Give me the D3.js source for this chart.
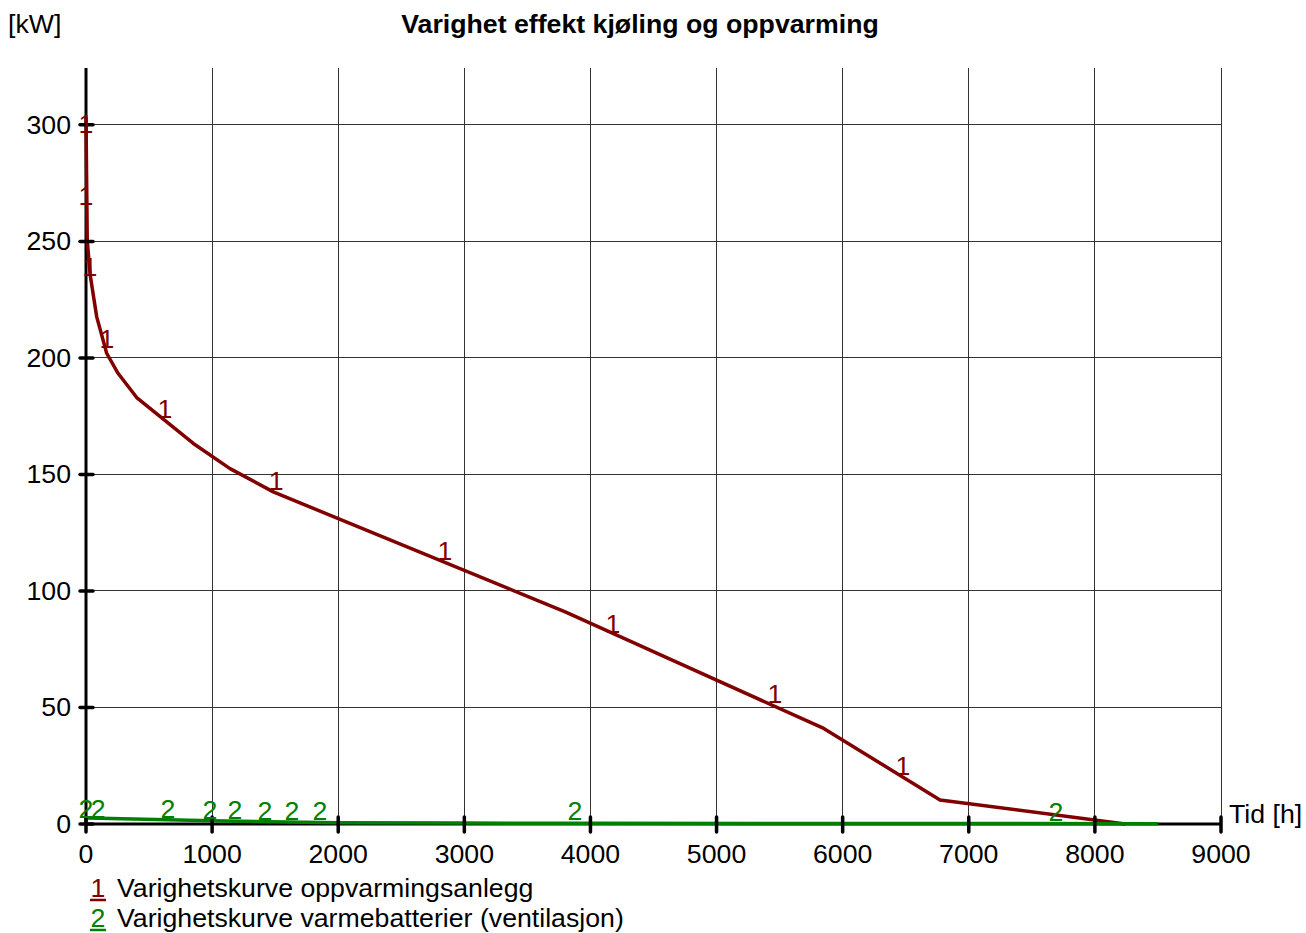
<!DOCTYPE html>
<html>
<head>
<meta charset="utf-8">
<script src="https://cdn.jsdelivr.net/npm/d3@7"></script>
<style>
  body { margin: 0; background: #fff; }
  svg { display: block; font-family: "Liberation Sans", Arial, sans-serif; }
</style>
</head>
<body>
<div id="chart"></div>
<script>
// duration curve, heating plant (h, kW)
const heatingHours = [0, 10, 32, 85, 164, 254, 402, 851, 1142, 1485, 3800, 4600, 5850, 6772, 8240];
const heatingKw = [303, 250.5, 236, 217.6, 202, 193.4, 183, 163.3, 152.5, 142.5, 91, 71.5, 41, 10.3, 0];

// duration curve, ventilation heating coils (h, kW)
const ventHours = [0, 110, 1000, 2000, 3000, 4000, 6000, 8500];
const ventKw = [2.6, 2.5, 1.4, 0.55, 0.4, 0.3, 0.2, 0.15];

// label positions along each curve
const heatingMarkHours = [0, 0, 32, 166, 626, 1507, 2847, 4179, 5463, 6478];
const heatingMarkKw = [300, 269, 238.5, 207.6, 177.5, 146.7, 116.7, 85.3, 55.3, 24.4];
const ventMarkHours = [0, 97, 650, 983, 1181, 1419, 1633, 1855, 3877, 7692];
const ventMarkKw = [6, 6, 6, 5.6, 5.6, 5.3, 5.3, 5, 5, 4.8];

const xTicks = [0, 1000, 2000, 3000, 4000, 5000, 6000, 7000, 8000, 9000];
const yTicks = [0, 50, 100, 150, 200, 250, 300];

const legendLabels = ['Varighetskurve oppvarmingsanlegg', 'Varighetskurve varmebatterier (ventilasjon)'];
const seriesColors = ['#800000', '#008000'];
const seriesMarks = ['1', '2'];

const width = 1306, height = 933;
const fontSize = 26.7;

const svg = d3.select('#chart').append('svg')
  .attr('width', width)
  .attr('height', height);

const x = d3.scaleLinear().domain([0, 9000]).range([86, 1221]);
const y = d3.scaleLinear().domain([0, 324.4]).range([824, 68]);

// title and unit
svg.append('text')
  .attr('x', 640).attr('y', 33)
  .attr('text-anchor', 'middle')
  .attr('font-weight', 'bold')
  .attr('font-size', 26.7)
  .text('Varighet effekt kjøling og oppvarming');

svg.append('text')
  .attr('x', 8).attr('y', 33)
  .attr('font-size', fontSize)
  .text('[kW]');

// grid
const grid = svg.append('g').attr('stroke', '#333').attr('stroke-width', 1).attr('shape-rendering', 'crispEdges');
grid.selectAll('line.v')
  .data(xTicks.slice(1))
  .enter().append('line')
  .attr('x1', d => x(d)).attr('x2', d => x(d))
  .attr('y1', y(0)).attr('y2', y.range()[1]);
grid.selectAll('line.h')
  .data(yTicks.slice(1))
  .enter().append('line')
  .attr('x1', x(0)).attr('x2', x.range()[1])
  .attr('y1', d => y(d)).attr('y2', d => y(d));

// axis lines
svg.append('line')
  .attr('x1', x(0)).attr('x2', x(0))
  .attr('y1', y(0)).attr('y2', y.range()[1])
  .attr('stroke', '#000').attr('stroke-width', 3);
svg.append('line')
  .attr('x1', x(0)).attr('x2', x.range()[1])
  .attr('y1', y(0)).attr('y2', y(0))
  .attr('stroke', '#000').attr('stroke-width', 3);

// curves
const line = d3.line().x(d => x(d[0])).y(d => y(d[1]));
const heating = d3.zip(heatingHours, heatingKw);
const vent = d3.zip(ventHours, ventKw);

svg.append('path')
  .datum(heating)
  .attr('d', line)
  .attr('fill', 'none')
  .attr('stroke', seriesColors[0])
  .attr('stroke-width', 3.5)
  .attr('stroke-linejoin', 'round');

svg.append('path')
  .datum(vent)
  .attr('d', line)
  .attr('fill', 'none')
  .attr('stroke', seriesColors[1])
  .attr('stroke-width', 3.5);

// ticks
svg.append('g').selectAll('line')
  .data(xTicks)
  .enter().append('line')
  .attr('x1', d => x(d)).attr('x2', d => x(d))
  .attr('y1', y(0) - 7).attr('y2', y(0) + 8)
  .attr('stroke', '#000').attr('stroke-width', 3.5).attr('stroke-linecap', 'round');
svg.append('g').selectAll('line')
  .data(yTicks)
  .enter().append('line')
  .attr('x1', x(0) - 6).attr('x2', x(0) + 7)
  .attr('y1', d => y(d)).attr('y2', d => y(d))
  .attr('stroke', '#000').attr('stroke-width', 3.5).attr('stroke-linecap', 'round');

// tick labels
svg.append('g').selectAll('text')
  .data(xTicks)
  .enter().append('text')
  .attr('x', d => x(d)).attr('y', y(0) + 39)
  .attr('text-anchor', 'middle')
  .attr('font-size', fontSize)
  .text(d => d);
svg.append('g').selectAll('text')
  .data(yTicks)
  .enter().append('text')
  .attr('x', x(0) - 15).attr('y', d => y(d) + 9)
  .attr('text-anchor', 'end')
  .attr('font-size', fontSize)
  .text(d => d);

svg.append('text')
  .attr('x', 1229).attr('y', y(0) - 1)
  .attr('font-size', fontSize)
  .text('Tid [h]');

// curve markers
const markSets = [
  d3.zip(heatingMarkHours, heatingMarkKw),
  d3.zip(ventMarkHours, ventMarkKw)
];
markSets.forEach((marks, i) => {
  svg.append('g').selectAll('text')
    .data(marks)
    .enter().append('text')
    .attr('x', d => x(d[0])).attr('y', d => y(d[1]) + 8)
    .attr('text-anchor', 'middle')
    .attr('font-size', fontSize)
    .attr('fill', seriesColors[i])
    .text(seriesMarks[i]);
});

// legend
const legend = svg.append('g')
  .selectAll('g')
  .data(legendLabels)
  .enter().append('g')
  .attr('transform', (d, i) => `translate(0, ${897 + i * 30})`);
legend.append('text')
  .attr('x', 98).attr('y', 0)
  .attr('text-anchor', 'middle')
  .attr('font-size', fontSize)
  .attr('fill', (d, i) => seriesColors[i])
  .text((d, i) => seriesMarks[i]);
legend.append('line')
  .attr('x1', 90).attr('x2', 106)
  .attr('y1', 3).attr('y2', 3)
  .attr('stroke', (d, i) => seriesColors[i])
  .attr('stroke-width', 2.5);
legend.append('text')
  .attr('x', 117).attr('y', 0)
  .attr('font-size', fontSize)
  .text(d => d);
</script>
</body>
</html>
